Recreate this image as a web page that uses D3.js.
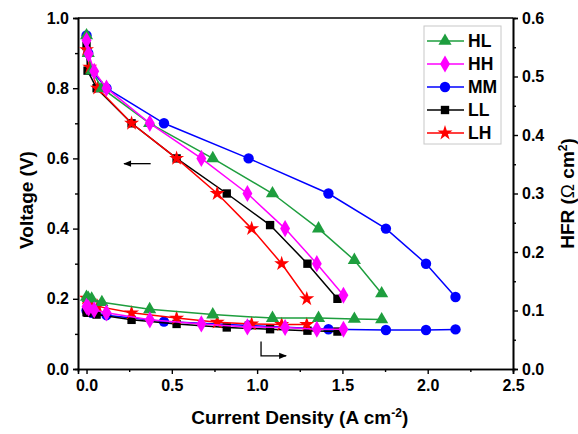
<!DOCTYPE html>
<html>
<head>
<meta charset="utf-8">
<script src="https://cdn.jsdelivr.net/npm/d3@7"></script>
<style>
  body { margin: 0; background: #fff; }
  text { font-family: "Liberation Sans", Arial, sans-serif; font-weight: bold; }
</style>
</head>
<body>
<svg id="chart"></svg>
<script>
// current density (A cm-2), voltage (V) and HFR (ohm cm2) per sample
const hlI = [0.0, 0.01, 0.03, 0.09, 0.37, 0.74, 1.09, 1.36, 1.57, 1.73];
const hlV = [0.95, 0.90, 0.85, 0.80, 0.70, 0.60, 0.50, 0.40, 0.31, 0.215];
const hlR = [0.123, 0.121, 0.120, 0.114, 0.102, 0.093, 0.087, 0.087, 0.0855, 0.0845];

const hhI = [0.0, 0.012, 0.045, 0.117, 0.371, 0.673, 0.943, 1.164, 1.35, 1.506];
const hhV = [0.936, 0.898, 0.848, 0.80, 0.70, 0.60, 0.50, 0.40, 0.30, 0.21];
const hhR = [0.107, 0.104, 0.101, 0.096, 0.084, 0.077, 0.072, 0.071, 0.068, 0.068];

const mmI = [0.0, 0.01, 0.03, 0.117, 0.454, 0.95, 1.418, 1.755, 1.99, 2.163];
const mmV = [0.95, 0.90, 0.85, 0.80, 0.70, 0.60, 0.50, 0.40, 0.30, 0.205];
const mmR = [0.100, 0.098, 0.096, 0.092, 0.081, 0.0745, 0.068, 0.0667, 0.0667, 0.0677];

const llI = [0.0, 0.006, 0.059, 0.264, 0.528, 0.822, 1.076, 1.295, 1.471];
const llV = [0.92, 0.85, 0.80, 0.70, 0.60, 0.50, 0.41, 0.30, 0.20];
const llR = [0.097, 0.096, 0.093, 0.084, 0.077, 0.071, 0.068, 0.0655, 0.064];

const lhI = [0.0, 0.019, 0.065, 0.264, 0.528, 0.766, 0.968, 1.144, 1.291];
const lhV = [0.91, 0.86, 0.80, 0.70, 0.60, 0.50, 0.40, 0.30, 0.20];
const lhR = [0.121, 0.116, 0.107, 0.096, 0.087, 0.080, 0.077, 0.076, 0.076];

const xTicks = [0, 0.5, 1.0, 1.5, 2.0, 2.5];
const yTicks = [0, 0.2, 0.4, 0.6, 0.8, 1.0];
const y2Ticks = [0, 0.1, 0.2, 0.3, 0.4, 0.5, 0.6];

const series = [
  { name: 'MM', I: mmI, V: mmV, R: mmR, color: '#0000ff', sym: d3.symbolCircle, size: 85 },
  { name: 'LL', I: llI, V: llV, R: llR, color: '#000000', sym: d3.symbolSquare, size: 70 },
  { name: 'LH', I: lhI, V: lhV, R: lhR, color: '#ff0000', sym: d3.symbolStar, size: 70 },
  { name: 'HL', I: hlI, V: hlV, R: hlR, color: '#1e9e3e', sym: d3.symbolTriangle, size: 75 },
  { name: 'HH', I: hhI, V: hhV, R: hhR, color: '#ff00ff', sym: d3.symbolDiamond, size: 85 }
];
const legendOrder = ['HL', 'HH', 'MM', 'LL', 'LH'];

const W = 578, H = 434;
const margin = { top: 18, right: 65, bottom: 65, left: 78 };
const width = W - margin.left - margin.right;
const height = H - margin.top - margin.bottom;

const svg = d3.select('#chart').attr('width', W).attr('height', H);
const g = svg.append('g').attr('transform', `translate(${margin.left},${margin.top})`);

const x = d3.scaleLinear().domain([-0.05, 2.5]).range([0, width]);
const y = d3.scaleLinear().domain([0, 1.0]).range([height, 0]);
const y2 = d3.scaleLinear().domain([0, 0.6]).range([height, 0]);

function styleAxis(sel) {
  sel.selectAll('path').attr('stroke', '#000').attr('stroke-width', 1.6);
  sel.selectAll('line').attr('stroke', '#000').attr('stroke-width', 1.4);
  sel.selectAll('text').style('font-size', '16px').attr('fill', '#000');
}

// minor ticks
g.append('g').attr('transform', `translate(0,${height})`)
  .call(d3.axisBottom(x).tickValues(d3.range(0.25, 2.5, 0.5)).tickSize(3).tickFormat(''))
  .call(styleAxis);
g.append('g')
  .call(d3.axisLeft(y).tickValues(d3.range(0.1, 1.0, 0.2)).tickSize(3).tickFormat(''))
  .call(styleAxis);
g.append('g').attr('transform', `translate(${width},0)`)
  .call(d3.axisRight(y2).tickValues(d3.range(0.05, 0.6, 0.1)).tickSize(3).tickFormat(''))
  .call(styleAxis);

// major ticks
g.append('g').attr('transform', `translate(0,${height})`)
  .call(d3.axisBottom(x).tickValues(xTicks).tickSize(5).tickPadding(6).tickFormat(d3.format('.1f')))
  .call(styleAxis);
g.append('g')
  .call(d3.axisLeft(y).tickValues(yTicks).tickSize(5).tickPadding(4).tickFormat(d3.format('.1f')))
  .call(styleAxis);
g.append('g').attr('transform', `translate(${width},0)`)
  .call(d3.axisRight(y2).tickValues(y2Ticks).tickSize(5).tickPadding(4).tickFormat(d3.format('.1f')))
  .call(styleAxis);

// top frame
g.append('line').attr('x1', 0).attr('x2', width).attr('y1', 0).attr('y2', 0)
  .attr('stroke', '#000').attr('stroke-width', 1.6);

const plot = g.append('g');

series.forEach(s => {
  const pol = s.I.map((v, i) => [v, s.V[i]]);
  const hfr = s.I.map((v, i) => [v, s.R[i]]);
  const lineV = d3.line().x(d => x(d[0])).y(d => y(d[1]));
  const lineR = d3.line().x(d => x(d[0])).y(d => y2(d[1]));
  [[pol, lineV, y], [hfr, lineR, y2]].forEach(([data, line, ys]) => {
    plot.append('path').datum(data)
      .attr('d', line).attr('fill', 'none')
      .attr('stroke', s.color).attr('stroke-width', 1.5);
    plot.selectAll(null).data(data).enter().append('path')
      .attr('d', d3.symbol().type(s.sym).size(s.size))
      .attr('transform', d => `translate(${x(d[0])},${ys(d[1])})`)
      .attr('fill', s.color);
  });
});

// arrows pointing to the axis each curve set belongs to
const defs = svg.append('defs');
defs.append('marker').attr('id', 'head').attr('viewBox', '0 0 10 10')
  .attr('refX', 9).attr('refY', 5).attr('markerWidth', 7).attr('markerHeight', 6)
  .attr('orient', 'auto-start-reverse')
  .append('path').attr('d', 'M0,1 L10,5 L0,9 Z').attr('fill', '#000');

g.append('line')
  .attr('x1', x(0.376)).attr('x2', x(0.22)).attr('y1', y(0.585)).attr('y2', y(0.585))
  .attr('stroke', '#000').attr('stroke-width', 1.3).attr('marker-end', 'url(#head)');
g.append('path')
  .attr('d', `M${x(1.023)},${y2(0.047)} L${x(1.023)},${y2(0.0225)} L${x(1.17)},${y2(0.0225)}`)
  .attr('fill', 'none').attr('stroke', '#000').attr('stroke-width', 1.3).attr('marker-end', 'url(#head)');

// legend
const leg = g.append('g').attr('transform', `translate(${424 - margin.left},${26 - margin.top})`);
leg.append('rect').attr('width', 77).attr('height', 118)
  .attr('fill', '#fff').attr('stroke', '#c8c8c8').attr('stroke-width', 1);
legendOrder.forEach((name, i) => {
  const s = series.find(d => d.name === name);
  const row = leg.append('g').attr('transform', `translate(0,${15 + i * 23})`);
  row.append('line').attr('x1', 3).attr('x2', 40).attr('stroke', s.color).attr('stroke-width', 1.5);
  row.append('path').attr('d', d3.symbol().type(s.sym).size(s.size)).attr('transform', 'translate(21,0)')
    .attr('fill', s.color);
  row.append('text').attr('x', 44).attr('dy', '0.36em').style('font-size', '17.5px').text(name);
});

// axis titles
svg.append('text')
  .attr('x', margin.left + x(1.25)).attr('y', 424)
  .attr('text-anchor', 'middle').style('font-size', '19px')
  .html('Current Density (A cm<tspan dy="-7" font-size="12px">-2</tspan><tspan dy="7">)</tspan>');

svg.append('text')
  .attr('transform', `translate(33,200) rotate(-90)`)
  .attr('text-anchor', 'middle').style('font-size', '19px')
  .text('Voltage (V)');

svg.append('text')
  .attr('transform', `translate(574,${margin.top + height / 2}) rotate(-90)`)
  .attr('text-anchor', 'middle').style('font-size', '19px')
  .html('HFR (<tspan font-weight="normal">Ω</tspan> cm<tspan dy="-7" font-size="12px">2</tspan><tspan dy="7">)</tspan>');
</script>
</body>
</html>
